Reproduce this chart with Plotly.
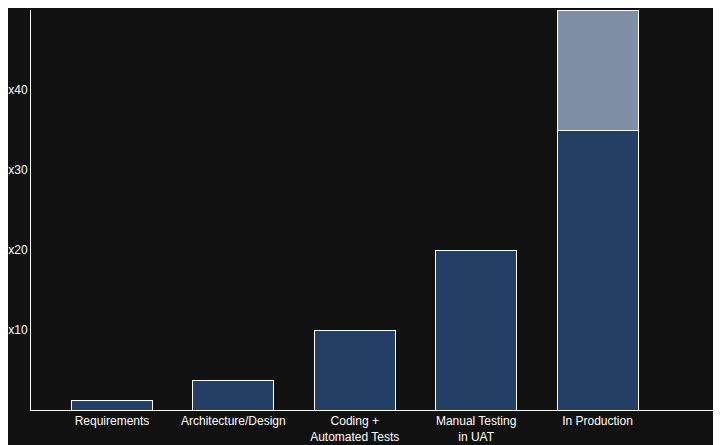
import plotly.graph_objects as go

categories = ["Requirements", "Architecture/Design", "Coding +<br>Automated Tests", "Manual Testing<br>in UAT", "In Production"]
base_values = [1.25, 3.75, 10, 20, 35]
extra_values = [0, 0, 0, 0, 15]
y_ticks = [10, 20, 30, 40, 50]
y_labels = ["x10", "x20", "x30", "x40", "x50"]

x = list(range(len(categories)))
fig = go.Figure()
fig.add_bar(x=x, y=base_values, width=0.667, marker=dict(color="#243f66", line=dict(color="#ffffff", width=1)))
fig.add_bar(x=x, y=extra_values, width=0.667, marker=dict(color="#7f8fa6", line=dict(color="#ffffff", width=1)))
fig.update_layout(
    barmode="stack", showlegend=False, width=721, height=445,
    paper_bgcolor="#111111", plot_bgcolor="#111111",
    margin=dict(l=23, r=0, t=2, b=43),
    font=dict(family="Liberation Sans, Arial", size=12, color="#ffffff"),
    xaxis=dict(range=[-0.667, 5.083], tickvals=x, ticktext=categories, showgrid=False,
               showline=True, linecolor="#ffffff", zeroline=False, ticks="", automargin=False),
    yaxis=dict(range=[0, 50], tickvals=y_ticks, ticktext=y_labels, showgrid=False,
               showline=True, linecolor="#ffffff", zeroline=False, ticks="", automargin=False),
)
fig.write_html("out.html", config={"displayModeBar": False})
